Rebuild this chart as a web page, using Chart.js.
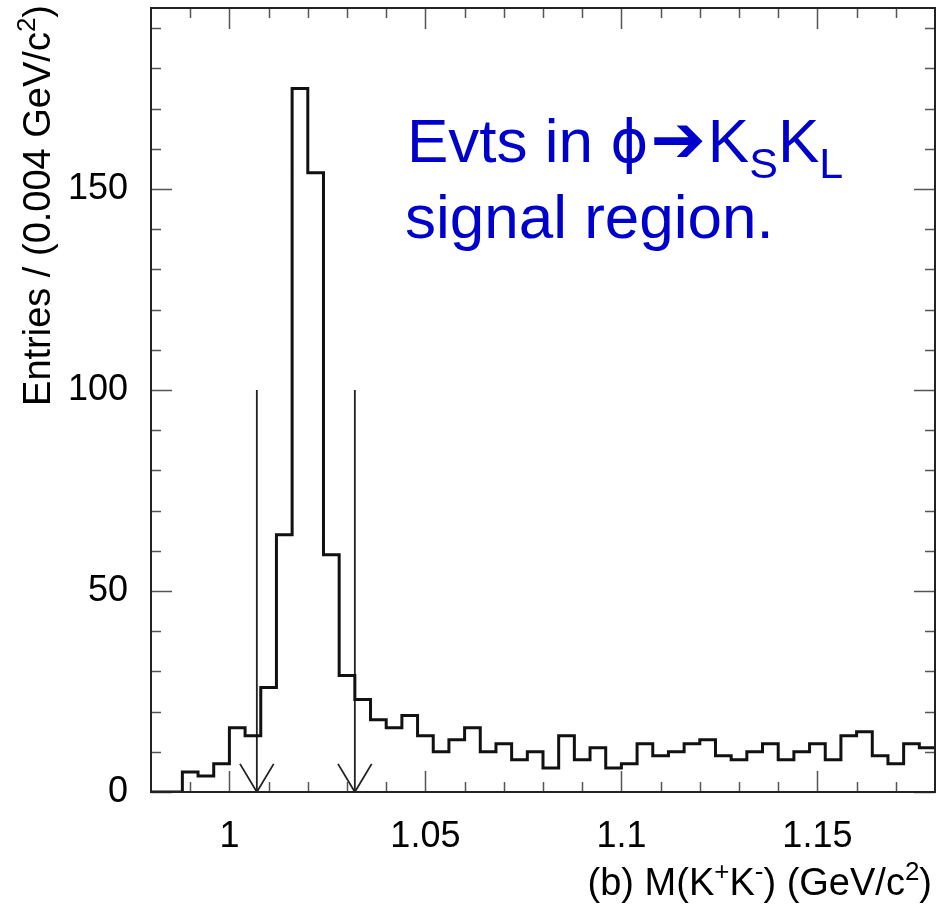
<!DOCTYPE html>
<html>
<head>
<meta charset="utf-8">
<title>M(K+K-) in the phi signal region</title>
<script src="https://cdn.jsdelivr.net/npm/chart.js@4.4.1/dist/chart.umd.min.js"></script>
<style>
    html, body { margin: 0; padding: 0; background: #fff; }
    #wrap { width: 937px; height: 914px; }
</style>
</head>
<body>
<div id="wrap"><canvas id="massChart" width="937" height="914"></canvas></div>
<script>
(() => {
    "use strict";

    // ====== Histogram data ======
    const HIST_LOW = 0.98;      // GeV/c^2, low edge of first bin
    const BIN_WIDTH = 0.004;    // GeV/c^2
    const ENTRIES = [
        0, 0, 5, 4, 7, 16, 14, 26, 64, 175,
        154, 59, 29, 23, 18, 16, 19, 14, 10, 13,
        16, 10, 12, 8, 10, 6, 14, 8, 11, 6,
        7, 12, 9, 10, 12, 13, 9, 8, 10, 12,
        8, 10, 12, 8, 14, 15, 9, 7, 12, 11
    ];

    // Mass window cuts marked with arrows
    const CUT_EDGES = [1.007, 1.032];
    const ARROW_TOP = 100;
    const HEAD_HALF_WIDTH = 0.0043;
    const HEAD_LENGTH = 7;

    // ====== Axes ======
    const X_MIN = 0.98;
    const X_MAX = 1.18;
    const Y_MIN = 0;
    const Y_MAX = 195;

    const X_MAJOR_TICKS = [1, 1.05, 1.1, 1.15];
    const X_TICK_LABELS = ["1", "1.05", "1.1", "1.15"];
    const X_MINOR_TICKS = [0.99, 1.01, 1.02, 1.03, 1.04, 1.06, 1.07, 1.08, 1.09,
                           1.11, 1.12, 1.13, 1.14, 1.16, 1.17];
    const Y_MAJOR_TICKS = [0, 50, 100, 150];
    const Y_MINOR_TICKS = [10, 20, 30, 40, 60, 70, 80, 90, 110, 120, 130, 140,
                           160, 170, 180, 190];

    const FONT = '"Liberation Sans", Arial, Helvetica, sans-serif';
    const SYMBOL_FONT = '"DejaVu Sans", "Liberation Sans", sans-serif';
    const TEXT_BLUE = "#0000cc";

    // ====== Build datasets ======
    const histPoints = ENTRIES.map((n, i) => ({ x: HIST_LOW + i * BIN_WIDTH, y: n }));
    histPoints.push({ x: HIST_LOW + ENTRIES.length * BIN_WIDTH, y: ENTRIES[ENTRIES.length - 1] });

    const lineBase = {
        fill: false,
        tension: 0,
        pointRadius: 0,
        pointHoverRadius: 0,
        borderJoinStyle: "miter",
        borderCapStyle: "butt"
    };

    const datasets = [
        Object.assign({}, lineBase, {
            label: "M(K+K-)",
            data: histPoints,
            stepped: "before",
            borderColor: "#111",
            borderWidth: 3
        })
    ];

    CUT_EDGES.forEach((cut) => {
        datasets.push(Object.assign({}, lineBase, {
            label: "cut shaft",
            data: [{ x: cut, y: ARROW_TOP }, { x: cut, y: 0 }],
            borderColor: "#222",
            borderWidth: 1.8
        }));
        datasets.push(Object.assign({}, lineBase, {
            label: "cut head",
            data: [
                { x: cut - HEAD_HALF_WIDTH, y: HEAD_LENGTH },
                { x: cut, y: 0 },
                { x: cut + HEAD_HALF_WIDTH, y: HEAD_LENGTH }
            ],
            borderColor: "#222",
            borderWidth: 1.8
        }));
    });

    // ====== Text helpers ======
    // runs: { t, size, rise, weight, family, gap }
    function runFont(r) {
        return `${r.weight || "normal"} ${r.size}px ${r.family || FONT}`;
    }

    function drawRuns(ctx, runs, x, y, align) {
        const widths = runs.map((r) => {
            ctx.font = runFont(r);
            return ctx.measureText(r.t).width + (r.gap || 0) * 2;
        });
        const total = widths.reduce((a, b) => a + b, 0);
        let cx = align === "right" ? x - total : x;
        ctx.textBaseline = "alphabetic";
        ctx.textAlign = "left";
        runs.forEach((r, i) => {
            ctx.font = runFont(r);
            ctx.fillText(r.t, cx + (r.gap || 0), y - (r.rise || 0));
            cx += widths[i];
        });
    }

    // ROOT-like frame: inward ticks on all four sides, then the box
    const framePlugin = {
        id: "rootFrame",
        afterDatasetsDraw(chart) {
            const { ctx, chartArea: a, scales } = chart;
            const xs = scales.x;
            const ys = scales.y;
            ctx.save();
            ctx.strokeStyle = "#555";
            ctx.lineWidth = 1.5;
            ctx.beginPath();
            const xTick = (v, len) => {
                const px = Math.round(xs.getPixelForValue(v)) + 0.5;
                ctx.moveTo(px, a.bottom); ctx.lineTo(px, a.bottom - len);
                ctx.moveTo(px, a.top); ctx.lineTo(px, a.top + len);
            };
            const yTick = (v, len) => {
                const py = Math.round(ys.getPixelForValue(v)) + 0.5;
                ctx.moveTo(a.left, py); ctx.lineTo(a.left + len, py);
                ctx.moveTo(a.right, py); ctx.lineTo(a.right - len, py);
            };
            X_MAJOR_TICKS.forEach((v) => xTick(v, 21));
            X_MINOR_TICKS.forEach((v) => xTick(v, 10));
            Y_MAJOR_TICKS.forEach((v) => yTick(v, 21));
            Y_MINOR_TICKS.forEach((v) => yTick(v, 10));
            ctx.stroke();

            ctx.strokeStyle = "#222";
            ctx.lineWidth = 2;
            ctx.strokeRect(a.left, a.top, a.right - a.left, a.bottom - a.top);
            ctx.restore();
        },
        afterDraw(chart) {
            const { ctx } = chart;
            ctx.save();

            // y axis title, rotated and pushed to the top end
            ctx.fillStyle = "#000";
            ctx.translate(50, 5);
            ctx.rotate(-Math.PI / 2);
            drawRuns(ctx, [
                { t: "Entries / (0.004 GeV/c", size: 38 },
                { t: "2", size: 26, rise: 15 },
                { t: ")", size: 38 }
            ], 0, 0, "right");
            ctx.setTransform(1, 0, 0, 1, 0, 0);

            // x axis title, right aligned
            drawRuns(ctx, [
                { t: "(b) M(K", size: 38 },
                { t: "+", size: 26, rise: 15 },
                { t: "K", size: 38 },
                { t: "-", size: 26, rise: 15 },
                { t: ") (GeV/c", size: 38 },
                { t: "2", size: 26, rise: 15 },
                { t: ")", size: 38 }
            ], 932, 895, "right");

            // annotation
            ctx.fillStyle = TEXT_BLUE;
            drawRuns(ctx, [
                { t: "Evts in ", size: 62 },
                { t: "ϕ", size: 58, family: SYMBOL_FONT },
                { t: "➔", size: 66, family: SYMBOL_FONT, gap: 2 },
                { t: "K", size: 62 },
                { t: "S", size: 43, rise: -16 },
                { t: "K", size: 62 },
                { t: "L", size: 43, rise: -16 }
            ], 407, 162, "left");
            drawRuns(ctx, [{ t: "signal region.", size: 62 }], 405, 238, "left");

            ctx.restore();
        }
    };

    // ====== Chart ======
    new Chart(document.getElementById("massChart").getContext("2d"), {
        type: "line",
        data: { datasets },
        plugins: [framePlugin],
        options: {
            responsive: false,
            animation: false,
            devicePixelRatio: 1,
            layout: { padding: { top: 8, right: 2, left: 0, bottom: 0 } },
            plugins: {
                legend: { display: false },
                tooltip: { enabled: false },
                title: { display: false }
            },
            scales: {
                x: {
                    type: "linear",
                    min: X_MIN,
                    max: X_MAX,
                    afterBuildTicks: (s) => { s.ticks = X_MAJOR_TICKS.map((v) => ({ value: v })); },
                    afterFit: (s) => {
                        s.height = 122;
                        s.paddingLeft = 0;
                        s.paddingRight = 0;
                    },
                    grid: { display: false, drawTicks: false },
                    border: { display: false },
                    ticks: {
                        autoSkip: false,
                        maxRotation: 0,
                        padding: 23,
                        color: "#000",
                        font: { family: FONT, size: 36 },
                        callback: (v, i) => X_TICK_LABELS[i]
                    }
                },
                y: {
                    type: "linear",
                    min: Y_MIN,
                    max: Y_MAX,
                    afterBuildTicks: (s) => { s.ticks = Y_MAJOR_TICKS.map((v) => ({ value: v })); },
                    afterFit: (s) => {
                        s.width = 151;
                        s.paddingTop = 0;
                        s.paddingBottom = 0;
                    },
                    grid: { display: false, drawTicks: false },
                    border: { display: false },
                    ticks: {
                        padding: 23,
                        color: "#000",
                        font: { family: FONT, size: 36 },
                        callback: (v) => String(v)
                    }
                }
            }
        }
    });
})();
</script>
</body>
</html>
